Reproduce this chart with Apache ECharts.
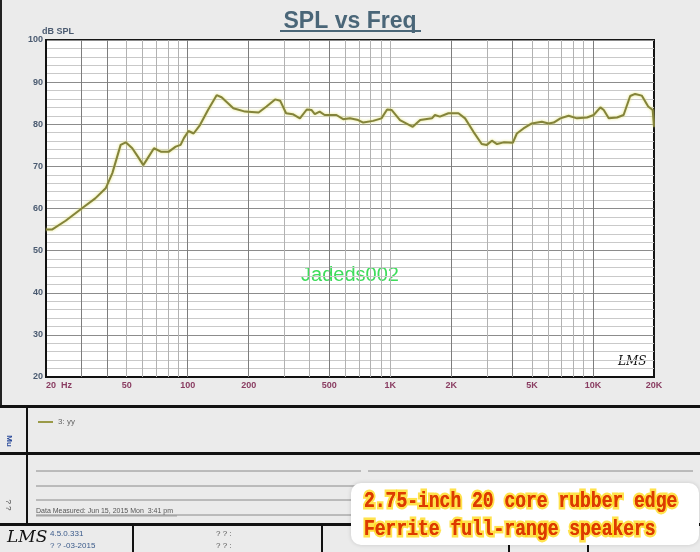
<!DOCTYPE html>
<html><head><meta charset="utf-8">
<script src="https://cdn.jsdelivr.net/npm/echarts@6/dist/echarts.min.js"></script>
<style>html,body{margin:0;padding:0;background:#ebebeb}#c{width:700px;height:552px}</style>
</head><body><div id="c"></div>
<script>
// ---- data ----
const freqHz = [20, 21.4, 25, 30, 35, 39.4, 42.5, 46.7, 49.5, 53.3, 57, 60.4, 64, 68.2, 73.7, 80.8, 87.3, 92.3, 95.8, 101, 107, 115, 126, 139, 147, 168, 192, 224, 245, 270, 286, 306, 330, 358, 387, 408, 424, 448, 474, 542, 585, 632, 694, 735, 822, 904, 964, 1014, 1116, 1290, 1404, 1604, 1660, 1756, 1934, 2168, 2338, 2572, 2824, 2994, 3170, 3360, 3620, 4020, 4210, 4540, 4990, 5594, 6040, 6400, 6900, 7580, 8340, 9340, 10080, 10880, 11300, 11960, 13140, 14160, 15260, 16140, 17400, 18720, 19700, 20000];
const splDb = [55.0, 55.0, 57.1, 60.0, 62.4, 64.8, 68.4, 75.1, 75.7, 74.3, 72.2, 70.3, 72.2, 74.3, 73.5, 73.5, 74.7, 75.1, 76.7, 78.4, 77.8, 79.8, 83.4, 86.9, 86.4, 83.8, 83.0, 82.8, 84.2, 85.9, 85.6, 82.6, 82.4, 81.4, 83.5, 83.4, 82.4, 83.0, 82.2, 82.2, 81.2, 81.4, 81.0, 80.4, 80.8, 81.4, 83.5, 83.4, 81.0, 79.4, 81.0, 81.4, 82.2, 81.8, 82.6, 82.6, 81.4, 78.2, 75.3, 75.1, 76.1, 75.3, 75.7, 75.6, 77.8, 79.0, 80.2, 80.6, 80.2, 80.4, 81.4, 82.0, 81.4, 81.6, 82.2, 84.0, 83.4, 81.4, 81.6, 82.2, 86.7, 87.2, 86.8, 84.2, 83.4, 79.4];
const seriesName = '3: yy';
const xTickValues = [20, 50, 100, 200, 500, 1000, 2000, 5000, 10000, 20000];
const xTickLabels = ['20  Hz', '50', '100', '200', '500', '1K', '2K', '5K', '10K', '20K'];
const yMin = 20, yMax = 100, yStep = 10;
const chartTitle = 'SPL vs Freq';
const yUnit = 'dB SPL';
const watermark = 'Jadeds002';
const captionLines = ['2.75-inch 20 core rubber edge', 'Ferrite full-range speakers'];

// log grid lines (1..9 x decade)
const gridFreqs = [];
[10, 100, 1000, 10000].forEach(d => { for (let m = 1; m <= 9; m++) { const f = m * d; if (f > 20 && f < 20000) gridFreqs.push(f); } });
const darkFreqs = [30, 40, 100, 200, 500, 2000, 4000, 10000];

const chart = echarts.init(document.getElementById('c'), null, {renderer: 'canvas'});
const FONT = 'Liberation Sans, Arial, sans-serif';
const lblColor = '#4a5a70';
const xLblColor = '#8a3d62';
const capFont = 'bold 18px "Liberation Mono", monospace';

function captionText(txt, y, glow) {
  const style = {text: txt, fill: '#dd3a00', font: capFont, textVerticalAlign: 'middle'};
  if (glow) { style.stroke = 'rgba(255,214,0,0.7)'; style.lineWidth = 4; }
  return {type: 'text', x: 364, y: y, scaleY: 1.2, style: style};
}

chart.setOption({
  animation: false,
  backgroundColor: '#ebebeb',
  title: {
    text: chartTitle, left: 'center', top: 5,
    textStyle: {fontSize: 23, fontWeight: 'bold', color: '#4a6678', fontFamily: FONT}
  },
  legend: {
    data: [seriesName], left: 33, top: 413, icon: 'rect', itemWidth: 15, itemHeight: 2,
    textStyle: {fontSize: 8, color: '#666', fontFamily: FONT}
  },
  grid: {left: 46, top: 40, right: 46, bottom: 175, show: true, backgroundColor: '#ffffff', borderColor: '#151515', borderWidth: 2},
  xAxis: {
    type: 'log', logBase: 10, min: 20, max: 20000,
    axisLine: {show: true, lineStyle: {color: '#111', width: 2}},
    axisTick: {show: false},
    splitLine: {show: false},
    axisLabel: {
      customValues: xTickValues, margin: 4, fontSize: 9, fontWeight: 'bold', color: xLblColor, fontFamily: FONT,
      alignMinLabel: 'left', alignMaxLabel: 'center',
      formatter: v => { const i = xTickValues.findIndex(t => Math.abs(t - v) / t < 1e-6); return i >= 0 ? xTickLabels[i] : ''; }
    }
  },
  yAxis: {
    type: 'value', min: yMin, max: yMax, interval: yStep,
    name: yUnit, nameLocation: 'end', nameGap: 2,
    nameTextStyle: {fontSize: 9, fontWeight: 'bold', color: lblColor, align: 'left', fontFamily: FONT, padding: [0, 0, 0, -4]},
    axisLine: {show: true, lineStyle: {color: '#111', width: 2}},
    axisTick: {show: false},
    axisLabel: {margin: 3, fontSize: 9, fontWeight: 'bold', color: lblColor, fontFamily: FONT},
    splitLine: {show: true, lineStyle: {color: '#8c8c8c', width: 1}},
    minorTick: {show: false, splitNumber: 5},
    minorSplitLine: {show: true, lineStyle: {color: '#c9c9c9', width: 1}}
  },
  series: [{
    name: seriesName, type: 'line', showSymbol: false, z: 3,
    data: freqHz.map((f, i) => [f, splDb[i]]),
    itemStyle: {color: '#9a9a48'},
    lineStyle: {color: '#83833a', width: 2, shadowColor: 'rgba(225,225,110,0.95)', shadowBlur: 3},
    markLine: {
      silent: true, symbol: ['none', 'none'], z: 1, animation: false,
      label: {show: false},
      data: gridFreqs.map(f => ({xAxis: f, lineStyle: {color: darkFreqs.includes(f) ? '#7d7d7d' : '#b2b2b2', width: 1, type: 'solid'}}))
    }
  }],
  graphic: [
    // title underline
    {type: 'line', shape: {x1: 280, y1: 31, x2: 421, y2: 31}, style: {stroke: '#4a6678', lineWidth: 2}},
    // left frame edge
    {type: 'rect', shape: {x: 0, y: 0, width: 2, height: 406}, style: {fill: '#222'}},
    // watermark
    {type: 'text', x: 350, y: 275, style: {text: watermark, fill: '#3ddc5a', font: '20px ' + FONT, textAlign: 'center', textVerticalAlign: 'middle'}},
    // LMS signature in plot
    {type: 'text', x: 618, y: 356, style: {text: 'LMS', fill: '#111', font: 'italic 12px "DejaVu Serif", serif'}},
    // panel lines
    {type: 'rect', shape: {x: 0, y: 405, width: 700, height: 3}, style: {fill: '#111'}},
    {type: 'rect', shape: {x: 0, y: 452, width: 700, height: 3}, style: {fill: '#111'}},
    {type: 'rect', shape: {x: 0, y: 523, width: 700, height: 3}, style: {fill: '#111'}},
    {type: 'rect', shape: {x: 26, y: 406, width: 2, height: 118}, style: {fill: '#111'}},
    {type: 'line', shape: {x1: 36, y1: 471, x2: 361, y2: 471}, style: {stroke: '#8a8a8a', lineWidth: 1}},
    {type: 'line', shape: {x1: 368, y1: 471, x2: 693, y2: 471}, style: {stroke: '#8a8a8a', lineWidth: 1}},
    {type: 'line', shape: {x1: 36, y1: 486, x2: 693, y2: 486}, style: {stroke: '#8a8a8a', lineWidth: 1}},
    {type: 'line', shape: {x1: 36, y1: 500, x2: 693, y2: 500}, style: {stroke: '#8a8a8a', lineWidth: 1}},
    {type: 'line', shape: {x1: 36, y1: 515, x2: 693, y2: 515}, style: {stroke: '#8a8a8a', lineWidth: 1}},
    {type: 'text', x: 36, y: 508, style: {text: 'Data Measured: Jun 15, 2015 Mon  3:41 pm', fill: '#555', font: '7px ' + FONT}},
    {type: 'line', shape: {x1: 36, y1: 516, x2: 177, y2: 516}, style: {stroke: '#777', lineWidth: 0.6}},
    {type: 'text', x: 9, y: 441, rotation: -Math.PI / 2, style: {text: 'Mu', fill: '#2a4a9a', font: 'bold 8px ' + FONT, textAlign: 'center', textVerticalAlign: 'middle'}},
    {type: 'text', x: 8, y: 505, rotation: -Math.PI / 2, style: {text: '? ?', fill: '#444', font: '8px ' + FONT, textAlign: 'center', textVerticalAlign: 'middle'}},
    // bottom info panel
    {type: 'rect', shape: {x: 132, y: 525, width: 2, height: 27}, style: {fill: '#111'}},
    {type: 'rect', shape: {x: 321, y: 525, width: 2, height: 27}, style: {fill: '#111'}},
    {type: 'rect', shape: {x: 508, y: 540, width: 2, height: 12}, style: {fill: '#111'}},
    {type: 'rect', shape: {x: 587, y: 540, width: 2, height: 12}, style: {fill: '#111'}},
    {type: 'text', x: 7, y: 529, style: {text: 'LMS', fill: '#111', font: 'italic 17px "DejaVu Serif", serif'}},
    {type: 'text', x: 50, y: 530, style: {text: '4.5.0.331', fill: '#3a5a8a', font: '8px ' + FONT}},
    {type: 'text', x: 50, y: 542, style: {text: '? ? -03-2015', fill: '#3a5a8a', font: '8px ' + FONT}},
    {type: 'text', x: 216, y: 530, style: {text: '? ? :', fill: '#555', font: '8px ' + FONT}},
    {type: 'text', x: 216, y: 542, style: {text: '? ? :', fill: '#555', font: '8px ' + FONT}},
    // caption box
    {type: 'rect', shape: {x: 351, y: 483, width: 348, height: 62, r: 10}, style: {fill: '#ffffff', shadowBlur: 4, shadowColor: 'rgba(0,0,0,0.15)'}},
    captionText(captionLines[0], 502, true),
    captionText(captionLines[0], 502, false),
    captionText(captionLines[1], 530, true),
    captionText(captionLines[1], 530, false)
  ]
});
</script></body></html>
